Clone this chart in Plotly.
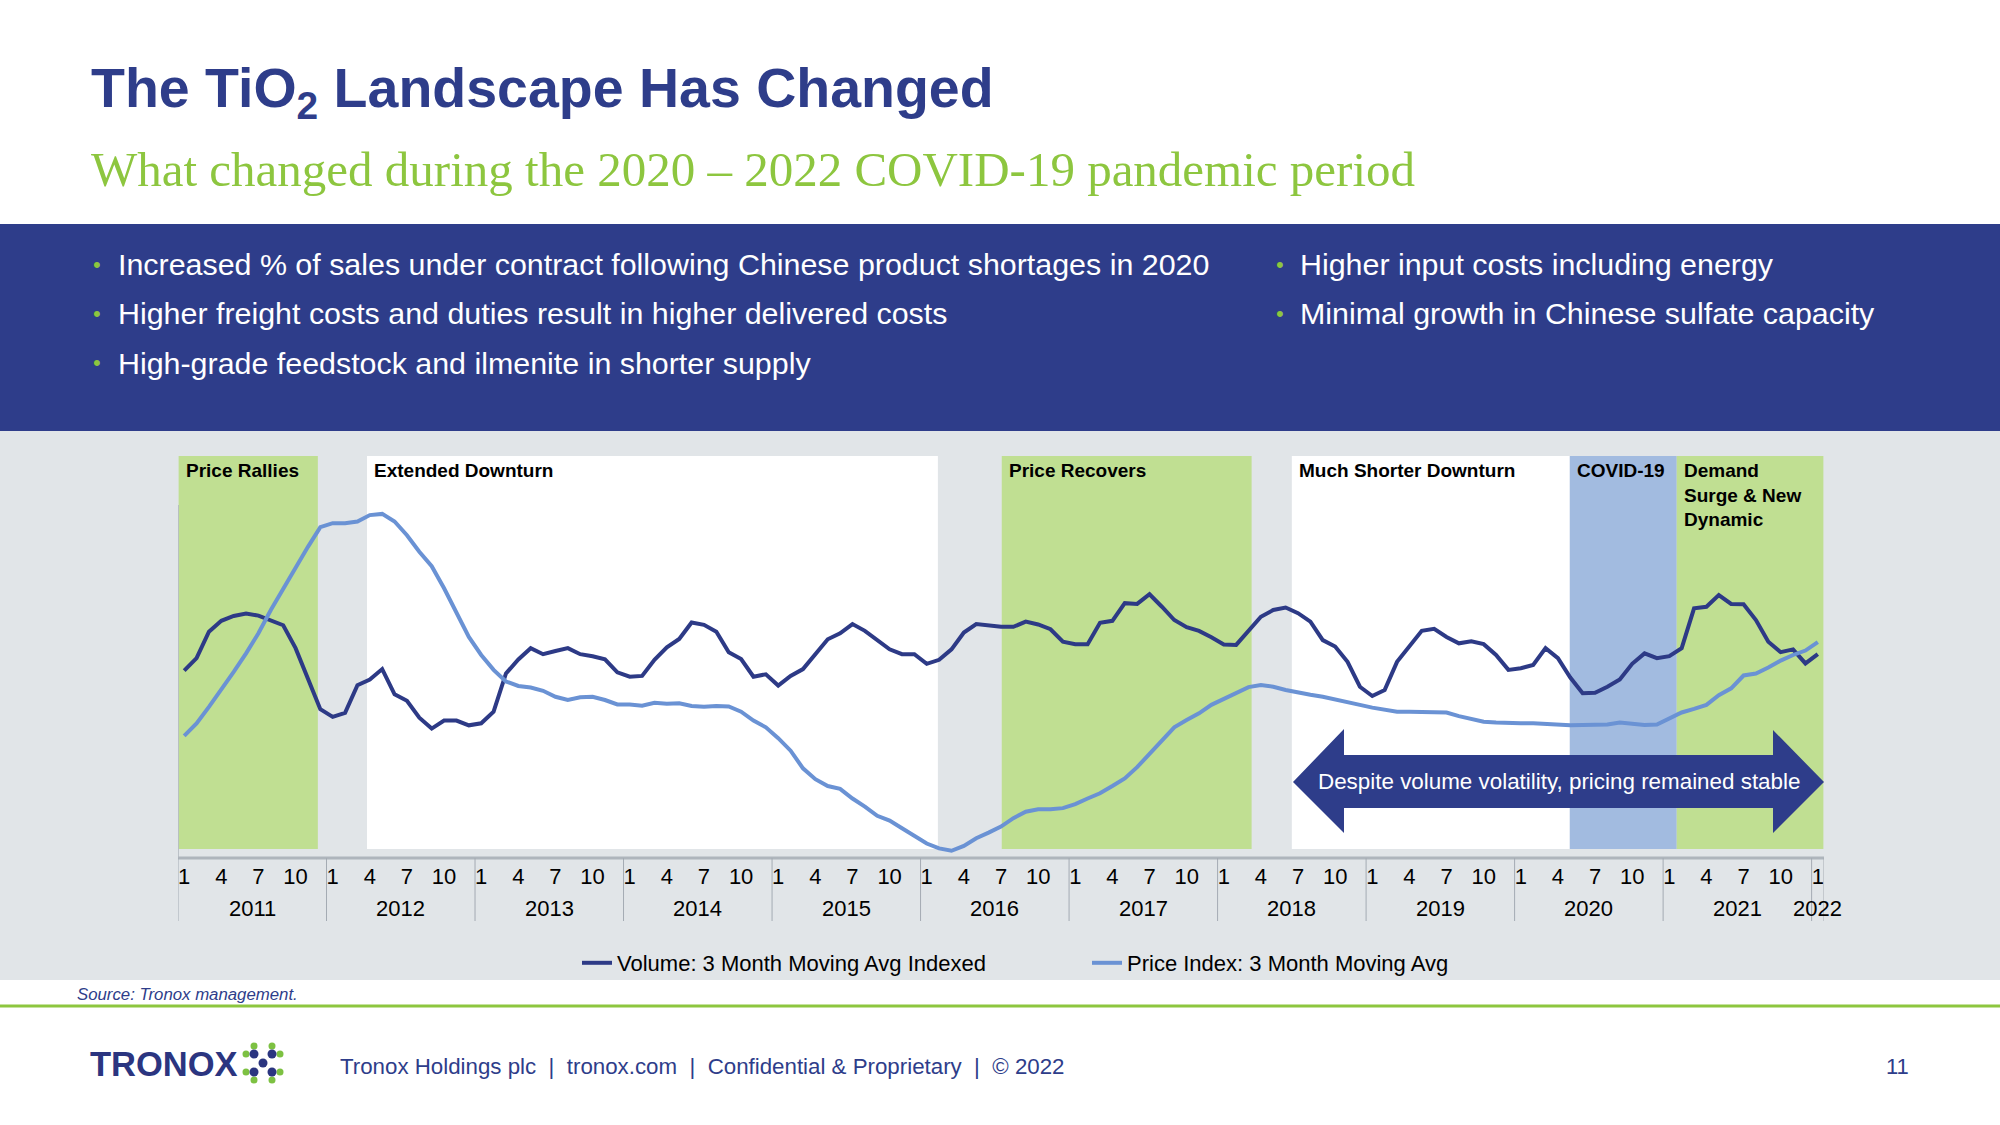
import plotly.graph_objects as go

# ---------------- data ----------------
years = [str(y) for y in range(2011, 2023)]
months = [f"{2011 + i // 12}-{i % 12 + 1:02d}" for i in range(133)]  # Jan 2011 .. Jan 2022
month_num = [i % 12 + 1 for i in range(133)]

volume = [46.6, 49.7, 56.3, 59.0, 60.2, 60.8, 60.3, 59.2, 57.9, 52.2, 44.3, 37.0,
          35.1, 36.1, 43.0, 44.4, 47.0, 40.7, 39.1, 34.9, 32.2, 34.2, 34.2, 33.0,
          33.5, 36.4, 45.9, 49.4, 52.2, 50.7, 51.5, 52.2, 50.7, 50.2, 49.4, 46.2,
          45.1, 45.3, 49.3, 52.4, 54.5, 58.6, 58.0, 56.3, 51.2, 49.5, 45.1, 45.7,
          42.9, 45.3, 47.0, 50.7, 54.4, 55.9, 58.2, 56.5, 54.2, 51.9, 50.7, 50.7,
          48.3, 49.3, 51.9, 56.1, 58.2, 57.9, 57.5, 57.5, 58.8, 58.1, 56.9, 53.8,
          53.2, 53.2, 58.5, 59.0, 63.4, 63.2, 65.6, 62.5, 59.2, 57.4, 56.5, 54.9,
          53.1, 53.0, 56.5, 60.0, 61.7, 62.3, 60.9, 58.8, 54.2, 52.6, 48.8, 42.6,
          40.3, 41.8, 48.8, 52.6, 56.5, 57.0, 55.0, 53.4, 53.9, 53.2, 50.5, 46.8,
          47.2, 48.0, 52.2, 49.7, 44.9, 41.0, 41.1, 42.6, 44.4, 48.3, 50.9, 49.7,
          50.2, 52.2, 62.1, 62.5, 65.4, 63.2, 63.1, 59.2, 53.8, 51.2, 51.9, 48.4,
          50.7]

price = [30.4, 33.5, 37.6, 41.8, 46.3, 50.9, 55.9, 61.7, 67.1, 72.1, 77.4, 82.3,
         83.3, 83.3, 83.7, 85.3, 85.6, 83.7, 80.3, 76.2, 72.6, 67.1, 60.9, 55.0,
         50.5, 46.8, 43.9, 42.8, 42.4, 41.6, 40.1, 39.3, 40.0, 40.1, 39.3, 38.2,
         38.2, 37.9, 38.6, 38.4, 38.5, 37.8, 37.6, 37.8, 37.7, 36.4, 34.2, 32.5,
         29.8, 26.7, 22.3, 19.6, 17.9, 17.2, 14.8, 12.8, 10.5, 9.3, 7.4, 5.5,
         3.6, 2.4, 1.8, 3.0, 4.9, 6.3, 7.8, 9.9, 11.5, 12.1, 12.1, 12.4,
         13.4, 14.8, 16.1, 17.9, 19.8, 22.6, 26.0, 29.4, 32.5, 34.3, 36.0, 38.1,
         39.6, 41.2, 42.5, 43.0, 42.6, 41.8, 41.1, 40.6, 40.1, 39.5, 38.8, 38.1,
         37.4, 36.8, 36.4, 36.4, 36.4, 36.4, 36.2, 35.3, 34.5, 33.9, 33.7, 33.5,
         33.5, 33.5, 33.3, 33.1, 33.0, 33.1, 33.1, 33.2, 33.7, 33.3, 33.1, 33.2,
         34.7, 36.2, 37.1, 38.1, 40.5, 42.2, 45.4, 45.9, 47.4, 49.1, 50.5, 51.6,
         53.7]

# phases: (label lines, start index, end index, colour)
phase_labels = ["Price Rallies", "Extended Downturn", "Price Recovers",
                "Much Shorter Downturn", "COVID-19", "Demand<br>Surge & New<br>Dynamic"]
phase_start = [-0.45, 14.77, 66.06, 89.5, 111.96, 120.6]
phase_end = [10.8, 60.9, 86.25, 111.96, 120.6, 132.45]
phase_color = ["#C0DF92", "#FFFFFF", "#C0DF92", "#FFFFFF", "#A2BBE0", "#C0DF92"]

tick_months = [1, 4, 7, 10]

# ---------------- helpers (page pixel -> paper) ----------------
W, H = 2000, 1125
def px(x):
    return x / W
def py(y):
    return 1 - y / H

NAVY = "#2E3D8A"
GREEN = "#8DC63F"
FONT = "Liberation Sans, Arial, sans-serif"

x_idx = list(range(len(months)))

fig = go.Figure()
fig.add_trace(go.Scatter(x=x_idx, y=volume, mode="lines", name="Volume: 3 Month Moving Avg Indexed",
                         line=dict(color="#2D3A86", width=4), customdata=months,
                         hovertemplate="%{customdata}: %{y}<extra></extra>"))
fig.add_trace(go.Scatter(x=x_idx, y=price, mode="lines", name="Price Index: 3 Month Moving Avg",
                         line=dict(color="#6A92D4", width=4), customdata=months,
                         hovertemplate="%{customdata}: %{y}<extra></extra>"))

shapes = []
# page background bands
shapes.append(dict(type="rect", xref="paper", yref="paper", x0=0, x1=1, y0=py(431), y1=py(224),
                   fillcolor=NAVY, line_width=0, layer="below"))
shapes.append(dict(type="rect", xref="paper", yref="paper", x0=0, x1=1, y0=py(980), y1=py(431),
                   fillcolor="#E1E5E8", line_width=0, layer="below"))
shapes.append(dict(type="line", xref="paper", yref="paper", x0=0, x1=1, y0=py(1006), y1=py(1006),
                   line=dict(color=GREEN, width=3)))

# phase regions
y_bottom = (858 - 849) / 4.02
for s, e, c in zip(phase_start, phase_end, phase_color):
    shapes.append(dict(type="rect", xref="x", yref="y", x0=s, x1=e, y0=y_bottom, y1=100,
                       fillcolor=c, line_width=0, layer="below"))

# axis lines
shapes.append(dict(type="line", xref="x", yref="paper", x0=-0.5, x1=132.5, y0=py(858), y1=py(858),
                   line=dict(color="#AEB5BC", width=3)))
shapes.append(dict(type="line", xref="x", yref="paper", x0=-0.5, x1=-0.5, y0=py(858), y1=py(505),
                   line=dict(color="#AEB5BC", width=1.5)))
# year separators
for k in range(12):
    xs = 12 * k - 0.5
    shapes.append(dict(type="line", xref="x", yref="paper", x0=xs, x1=xs, y0=py(858), y1=py(921),
                       line=dict(color="#A4ABB3", width=1)))
shapes.append(dict(type="line", xref="x", yref="paper", x0=132.5, x1=132.5, y0=py(858), y1=py(921),
                   line=dict(color="#A4ABB3", width=1)))

# double-headed arrow
arrow_pts = [(1293, 782), (1344, 729), (1344, 755), (1773, 755), (1773, 730), (1824, 782),
             (1773, 833), (1773, 808), (1344, 808), (1344, 833)]
path = "M " + " L ".join(f"{px(a):.5f},{py(b):.5f}" for a, b in arrow_pts) + " Z"
shapes.append(dict(type="path", xref="paper", yref="paper", path=path, fillcolor="#2E3D8A",
                   line_width=0))

# logo mark (dots)
cx, cy = 263, 1063
navy_dots = [(0, 0), (-9, -9), (9, -9), (-9, 9), (9, 9)]
green_dots = [(-17, -9), (-9, -17), (9, -17), (17, -9), (-17, 9), (-9, 17), (9, 17), (17, 9)]
for dx, dy in green_dots:
    shapes.append(dict(type="circle", xref="paper", yref="paper",
                       x0=px(cx + dx - 3.5), x1=px(cx + dx + 3.5), y0=py(cy + dy + 3.5), y1=py(cy + dy - 3.5),
                       fillcolor="#7DC142", line_width=0))
for dx, dy in navy_dots:
    r = 4.5
    shapes.append(dict(type="circle", xref="paper", yref="paper",
                       x0=px(cx + dx - r), x1=px(cx + dx + r), y0=py(cy + dy + r), y1=py(cy + dy - r),
                       fillcolor="#2B3580", line_width=0))

ann = []
def text(x, y, t, size, color="#000000", bold=False, xanchor="left", family=FONT, italic=False,
         xref="paper", yanchor="middle"):
    if bold:
        t = f"<b>{t}</b>"
    if italic:
        t = f"<i>{t}</i>"
    ann.append(dict(x=x if xref != "paper" else px(x), y=py(y), xref=xref, yref="paper", text=t,
                    showarrow=False, xanchor=xanchor, yanchor=yanchor, align="left",
                    font=dict(size=size, color=color, family=family)))

# titles
text(89, 92, "The TiO<sub>2</sub> Landscape Has Changed", 55.5, NAVY, bold=True)
text(89, 170, "What changed during the 2020 \u2013 2022 COVID-19 pandemic period", 49, GREEN,
     family="Liberation Serif, Georgia, serif")

# bullets
bullets_left = ["Increased % of sales under contract following Chinese product shortages in 2020",
                "Higher freight costs and duties result in higher delivered costs",
                "High-grade feedstock and ilmenite in shorter supply"]
bullets_right = ["Higher input costs including energy",
                 "Minimal growth in Chinese sulfate capacity"]
for j, b in enumerate(bullets_left):
    yy = 264 + j * 49.3
    text(97, yy, "\u2022", 22, GREEN, xanchor="center")
    text(116, yy, b, 30.4, "#FFFFFF")
for j, b in enumerate(bullets_right):
    yy = 264 + j * 49.3
    text(1280, yy, "\u2022", 22, GREEN, xanchor="center")
    text(1298, yy, b, 30.4, "#FFFFFF")

# phase labels
for lab, s in zip(phase_labels, phase_start):
    ann.append(dict(x=s, y=py(458), xref="x", yref="paper", text=f"<b>{lab}</b>", showarrow=False,
                    xanchor="left", yanchor="top", xshift=5, align="left",
                    font=dict(size=19, color="#000000", family=FONT)))

# arrow text
text(1559, 781, "Despite volume volatility, pricing remained stable", 22.4, "#FFFFFF", xanchor="center")

# year labels
for k, yr in enumerate(years):
    xc = 12 * k + 5.5 if yr != "2022" else 132
    ann.append(dict(x=xc, y=py(908), xref="x", yref="paper", text=yr, showarrow=False,
                    xanchor="center", yanchor="middle", font=dict(size=22, color="#000000", family=FONT)))

# footer
text(75, 994, "Source: Tronox management.", 16.8, NAVY, italic=True)
text(88, 1064, "TRONOX", 34.5, "#2B3580", bold=True)
text(338, 1066, "Tronox Holdings plc  |  tronox.com  |  Confidential &amp; Proprietary  |  \u00a9 2022", 22.3, NAVY)
text(1897, 1066, "11", 22, NAVY, xanchor="center")

tickvals = [i for i in x_idx if month_num[i] in tick_months]
ticktext = [str(month_num[i]) for i in tickvals]

fig.update_layout(
    width=W, height=H, autosize=False,
    margin=dict(l=0, r=0, t=0, b=0),
    paper_bgcolor="#FFFFFF", plot_bgcolor="rgba(0,0,0,0)",
    shapes=shapes, annotations=ann,
    font=dict(family=FONT, color="#000000"),
    showlegend=True,
    legend=dict(orientation="h", x=px(577), y=py(963), xanchor="left", yanchor="middle",
                font=dict(size=22, color="#000000", family=FONT), bgcolor="rgba(0,0,0,0)",
                entrywidth=465, entrywidthmode="pixels", itemwidth=30),
    xaxis=dict(domain=[px(178), px(1824)], range=[-0.5, 132.5], showgrid=False, zeroline=False,
               showline=False, tickmode="array", tickvals=tickvals, ticktext=ticktext, ticks="",
               ticklabelstandoff=3,
               tickfont=dict(size=22, color="#000000", family=FONT), fixedrange=True),
    yaxis=dict(domain=[py(858), py(456)], range=[0, 100], showgrid=False, zeroline=False,
               showline=False, showticklabels=False, fixedrange=True),
    hovermode="closest",
)

fig.write_html("out.html", config={"displayModeBar": False},
               post_script="document.body.style.margin='0';document.body.style.overflow='hidden';")
